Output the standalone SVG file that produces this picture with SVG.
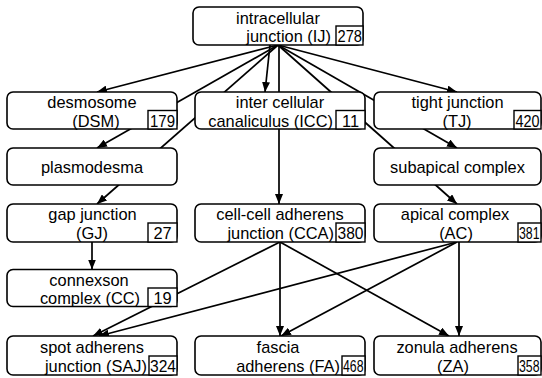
<svg xmlns="http://www.w3.org/2000/svg" width="542" height="378" viewBox="0 0 542 378">
<defs>
<marker id="ah" viewBox="0 0 10 8" refX="10" refY="4" markerWidth="10" markerHeight="8" orient="auto" markerUnits="userSpaceOnUse"><path d="M0,0 L10,4 L0,8 z" fill="#000"/></marker>
<style>
.n rect.b{fill:#fff;stroke:#000;stroke-width:1.6}
.n rect.k{fill:#fff;stroke:#000;stroke-width:1.4}
text{font-family:"Liberation Sans",Arial,sans-serif;font-size:16.4px;fill:#000}
text.s{font-size:16px}
.c{text-anchor:middle}
.e{text-anchor:end}
#edges line{stroke:#000;stroke-width:1.7;marker-end:url(#ah)}
</style>
</defs>
<rect width="542" height="378" fill="#fff"/>
<g id="edges">
<line x1="278" y1="45" x2="97" y2="92"/>
<line x1="278" y1="45" x2="97" y2="148"/>
<line x1="278" y1="45" x2="97" y2="204"/>
<line x1="270" y1="45" x2="265" y2="92"/>
<line x1="279" y1="45" x2="279" y2="204"/>
<line x1="278" y1="45" x2="457" y2="92"/>
<line x1="278" y1="45" x2="457" y2="148"/>
<line x1="278" y1="45" x2="457" y2="204"/>
<line x1="92" y1="242" x2="92" y2="269.5"/>
<line x1="280" y1="242" x2="93" y2="336"/>
<line x1="280" y1="242" x2="280" y2="336"/>
<line x1="280" y1="242" x2="449" y2="336"/>
<line x1="457" y1="242" x2="99" y2="336"/>
<line x1="457" y1="242" x2="281" y2="336"/>
<line x1="459" y1="242" x2="459" y2="336"/>
</g>
<g id="IJ" class="n"><rect class="b" x="193" y="7" width="170" height="38" rx="6"/><text class="c" x="278" y="24">intracellular</text><text class="e" x="331" y="42">junction (IJ)</text><rect class="k" x="336" y="26" width="27" height="19"/><text x="337.5" y="42" textLength="24.5" lengthAdjust="spacingAndGlyphs">278</text></g>
<g id="DSM" class="n"><rect class="b" x="7" y="92" width="170" height="37" rx="6"/><text class="c" x="92" y="108">desmosome</text><text class="c" x="96" y="126.5">(DSM)</text><rect class="k" x="148" y="110.5" width="29" height="18.5"/><text class="c" x="162.5" y="126.5" textLength="25" lengthAdjust="spacingAndGlyphs">179</text></g>
<g id="ICC" class="n"><rect class="b" x="195" y="92" width="170" height="37" rx="6"/><text class="c" x="280" y="108">inter cellular</text><text class="e" x="333" y="126.5">canaliculus (ICC)</text><rect class="k" x="336" y="110.5" width="29" height="18.5"/><text class="c" x="350.5" y="126.5">11</text></g>
<g id="TJ" class="n"><rect class="b" x="374" y="92" width="167" height="37" rx="6"/><text class="c" x="457.5" y="108">tight junction</text><text class="c" x="457" y="126.5">(TJ)</text><rect class="k" x="514" y="110.5" width="27" height="18.5"/><text class="s" transform="translate(515.5 126.5) scale(0.9 1)">420</text></g>
<g id="PD" class="n"><rect class="b" x="7" y="148" width="170" height="37" rx="6"/><text class="c" x="92" y="172.5">plasmodesma</text></g>
<g id="SAC" class="n"><rect class="b" x="374" y="148" width="167" height="37" rx="6"/><text class="c" x="457.5" y="172.5">subapical complex</text></g>
<g id="GJ" class="n"><rect class="b" x="7" y="204" width="170" height="38" rx="6"/><text class="c" x="92.5" y="220">gap junction</text><text class="c" x="92" y="239">(GJ)</text><rect class="k" x="148" y="223" width="29" height="19"/><text class="c" x="162.5" y="239">27</text></g>
<g id="CCA" class="n"><rect class="b" x="195" y="204" width="170" height="38" rx="6"/><text class="c" x="280" y="220">cell-cell adherens</text><text class="e" x="334" y="239">junction (CCA)</text><rect class="k" x="336" y="223" width="29" height="19"/><text x="337.5" y="239" textLength="26" lengthAdjust="spacingAndGlyphs">380</text></g>
<g id="AC" class="n"><rect class="b" x="374" y="204" width="167" height="38" rx="6"/><text class="c" x="455" y="220">apical complex</text><text class="c" x="456" y="239">(AC)</text><rect class="k" x="518" y="223" width="23" height="19"/><text class="s" transform="translate(519 239) scale(0.77 1)">381</text></g>
<g id="CC" class="n"><rect class="b" x="7" y="269.5" width="170" height="37" rx="6"/><text class="c" x="89" y="285.5">connexson</text><text class="c" x="90" y="304">complex (CC)</text><rect class="k" x="148" y="288" width="29" height="18.5"/><text class="c" x="162.5" y="304">19</text></g>
<g id="SAJ" class="n"><rect class="b" x="7" y="336" width="170" height="39" rx="6"/><text class="c" x="92" y="353">spot adherens</text><text class="e" x="147" y="372">junction (SAJ)</text><rect class="k" x="149" y="356" width="28" height="19"/><text x="150" y="372" textLength="26" lengthAdjust="spacingAndGlyphs">324</text></g>
<g id="FA" class="n"><rect class="b" x="195" y="336" width="170" height="39" rx="6"/><text class="c" x="278" y="353">fascia</text><text class="e" x="340" y="372">adherens (FA)</text><rect class="k" x="342" y="356" width="23" height="19"/><text class="s" transform="translate(343 372) scale(0.77 1)">468</text></g>
<g id="ZA" class="n"><rect class="b" x="374" y="336" width="167" height="39" rx="6"/><text class="c" x="457" y="353">zonula adherens</text><text class="c" x="453" y="372">(ZA)</text><rect class="k" x="518" y="356" width="23" height="19"/><text class="s" transform="translate(519 372) scale(0.77 1)">358</text></g>
</svg>
